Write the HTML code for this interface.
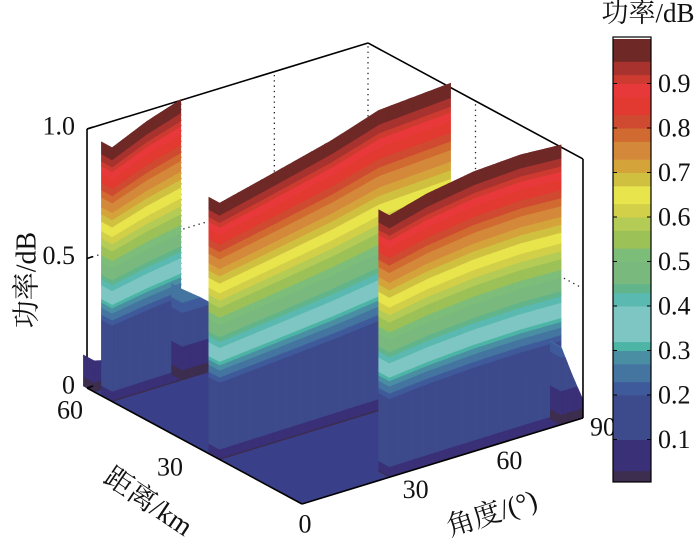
<!DOCTYPE html>
<html><head><meta charset="utf-8">
<style>
html,body{margin:0;padding:0;background:#fff;}
svg{display:block;}
text{font-family:"Liberation Serif","Noto Serif CJK SC",serif;fill:#111;}
</style></head>
<body>
<svg id="chart" width="700" height="545" viewBox="0 0 700 545" xmlns="http://www.w3.org/2000/svg">
<g id="grid"></g>
<g id="floor"></g>
<g id="surface"></g>
<g id="box"></g>
<g id="labels"></g>
<g id="cbar"></g>
</svg>
<script>
// ---- data ----
const colorLevels = [0,0.03,0.1,0.2,0.23,0.27,0.3,0.32,0.4,0.43,0.45,0.5,0.53,0.57,0.6,0.63,0.67,0.7,0.73,0.77,0.8,0.83,0.87,0.9,0.92,0.95,1.0];
const colorHex = ["#3d2d4e","#3a3078","#3d4a8c","#3f5a9a","#4474a0","#4a8ea4","#4db5a6","#7ec6c4","#5ab9b0","#62b58a","#7ab97e","#7dbd7a","#9cc157","#b4cc55","#d2cf48","#e8e44c","#d0c040","#d4a33a","#d4883a","#d06a30","#cf4a30","#e23a30","#e8393a","#cc3a30","#a8322e","#6e2826"];
const fracKnots = [0,0.04,0.3,0.45,1.0];
const valueKnots = [0.02,0.1,0.2,0.42,1.0];
const ridgeDist = [58, 53, 53, 23, 0, 0];
const ridgeAngles = [[0,3,6],[0,11,22],[22.5,28,33],[0,15,36,51,74],[28,40,55,70,83],[83,86.5,90]];
const ridgeHeights = [[0.12,0.11,0.1],[0.98,1.04,1.085],[0.35,0.3,0.25],[0.99,1.035,1.10,1.16,1.18],[1.01,1.05,1.08,1.09,1.08],[0.3,0.18,0.07]];
const ridgeColorMax = [1.2,0,1.3,0,0,1.3];
const zTicks = [0,0.5,1.0];
const zTickLabels = ["0","0.5","1.0"];
const distTicks = [0,30,60];
const angleTicks = [30,60,90];
const cbarTicks = [0.1,0.2,0.3,0.4,0.5,0.6,0.7,0.8,0.9];

// ---- projection ----
const O = [302,504];
function proj(a,d,z){ return [O[0]+3.122*a-3.583*d, O[1]-0.956*a-1.933*d-259*z]; }
function pts(list){ return list.map(p=>p[0].toFixed(1)+","+p[1].toFixed(1)).join(" "); }
const NS="http://www.w3.org/2000/svg";
function mk(tag,attrs,parent){ const e=document.createElementNS(NS,tag); for(const k in attrs) e.setAttribute(k,attrs[k]); parent.appendChild(e); return e; }
function interp(xs,ys,x){ if(x<=xs[0]) return ys[0]; for(let i=1;i<xs.length;i++){ if(x<=xs[i]){ const t=(x-xs[i-1])/(xs[i]-xs[i-1]); return ys[i-1]+t*(ys[i]-ys[i-1]); } } return ys[ys.length-1]; }

// ---- grid ----
const grid=document.getElementById('grid');
function dline(p1,p2,name){ const l=mk('line',{x1:p1[0],y1:p1[1],x2:p2[0],y2:p2[1],stroke:'#222','stroke-width':1.3,'stroke-dasharray':'1.3,4'},grid);

 }
[30,60].forEach(a=>dline(proj(a,60,0),proj(a,60,1),'grid-angle-'+a));
dline(proj(90,60,0),proj(90,60,1),'grid-back-corner');
dline(proj(90,30,0),proj(90,30,1),'grid-dist-30');
dline(proj(0,60,0.5),proj(90,60,0.5),'grid-z-left');
dline(proj(90,60,0.5),proj(90,0,0.5),'grid-z-right');

// ---- box back edges ----
const box=document.getElementById('box');
function sline(p1,p2,name,parent){ const l=mk('line',{x1:p1[0],y1:p1[1],x2:p2[0],y2:p2[1],stroke:'#000','stroke-width':1.6},parent);

 }
sline(proj(0,60,1),proj(90,60,1),'box-top-back-left',grid);
sline(proj(90,60,1),proj(90,0,1),'box-top-back-right',grid);
sline(proj(0,60,0),proj(0,60,1),'z-axis-line',grid);

// ---- floor ----
const floor=document.getElementById('floor');
const fl=mk('polygon',{points:pts([proj(0,60,0.09),proj(0,60,0),proj(0,0,0),proj(90,0,0),proj(90,0,0.05),proj(90,60,0.09)]),fill:'#3a3f89'},floor);



// ---- surface walls ----
const surf=document.getElementById('surface');
function fracOfValue(v){ return interp(valueKnots,fracKnots,v); }
function bandZ(lv,zt,cmax){ return cmax>0 ? Math.min(lv*cmax,zt) : (lv<=valueKnots[0]?0:fracOfValue(lv))*zt; }
for(let r=0;r<ridgeDist.length;r++){
  const d=ridgeDist[r], A=ridgeAngles[r], H=ridgeHeights[r], cm=ridgeColorMax[r];
  const g=mk('g',{},surf);
  
  
  const a0=A[0], zt0=H[0], th=3;
  for(let k=0;k<colorHex.length;k++){
    const z1=bandZ(colorLevels[k],zt0,cm), z2=bandZ(colorLevels[k+1],zt0,cm);
    if(z2-z1<1e-4) continue;
    mk('polygon',{points:pts([proj(a0,d,z1),proj(a0,d+th,z1),proj(a0,d+th,z2),proj(a0,d,z2)]),fill:colorHex[k],stroke:colorHex[k],'stroke-width':0.6},g);
  }
  const step=0.5;
  for(let a=A[0];a<A[A.length-1]-1e-6;a+=step){
    const b=Math.min(a+step,A[A.length-1]);
    const za=interp(A,H,a), zb=interp(A,H,b);
    for(let k=0;k<colorHex.length;k++){
      const la=colorLevels[k], lb=colorLevels[k+1];
      const z1a=bandZ(la,za,cm), z2a=bandZ(lb,za,cm), z1b=bandZ(la,zb,cm), z2b=bandZ(lb,zb,cm);
      if(z2a-z1a<1e-4 && z2b-z1b<1e-4) continue;
      mk('polygon',{points:pts([proj(a,d,z1a),proj(b,d,z1b),proj(b,d,z2b),proj(a,d,z2a)]),fill:colorHex[k],stroke:colorHex[k],'stroke-width':0.6},g);
    }
  }
}

// ---- front box edges ----
sline(proj(0,60,0),proj(0,0,0),'distance-axis-line',box);
sline(proj(0,0,0),proj(90,0,0),'angle-axis-line',box);
sline(proj(90,0,0),proj(90,0,1),'box-right-edge',box);
zTicks.forEach(z=>{ const p=proj(0,60,z); sline(p,[p[0]+6,p[1]-2],'z-tick-'+z,box); });

// ---- labels ----
const lab=document.getElementById('labels');
function txt(s,x,y,name,extra){ const t=mk('text',Object.assign({x:x,y:y,'font-size':26,'text-anchor':'middle','dominant-baseline':'central'},extra||{}),lab); t.textContent=s;

 return t; }
zTicks.forEach((z,i)=>{ const p=proj(0,60,z); txt(zTickLabels[i],p[0]-12,p[1]-3,'z-tick-label-'+i,{'text-anchor':'end'}); });
txt('60',70,410,'dist-tick-label-60');
txt('30',170,467,'dist-tick-label-30');
txt('0',305,524,'dist-tick-label-0');
angleTicks.forEach(av=>{ const p=proj(av,0,0); txt(String(av),p[0]+20,p[1]+14-(av===90?5:0),'angle-tick-label-'+av); });
txt('功率/dB',27,280,'z-axis-title',{transform:'rotate(-90 27 280)','font-size':28});
txt('距离/km',148,502,'distance-axis-title',{transform:'rotate(34 148 502)','font-size':28});
txt('角度/(°)',492,514,'angle-axis-title',{transform:'rotate(-18 492 514)','font-size':28});

// ---- colorbar ----
const cb=document.getElementById('cbar');
const cbX=613, cbW=38, cbTop=37, cbBot=484;
function cy(v){ return 484 - v*445; }
for(let k=0;k<colorHex.length;k++){
  const y1=Math.max(cy(colorLevels[k+1]),cbTop), y2=Math.min(cy(colorLevels[k]),cbBot-2);
  const r=mk('rect',{x:cbX,y:y1,width:cbW,height:Math.max(y2-y1,0)+0.5,fill:colorHex[k]},cb);
  
  
}
const fr=mk('rect',{x:cbX,y:cbTop,width:cbW,height:cbBot-2-cbTop,fill:'none',stroke:'#000','stroke-width':1.2},cb);


cbarTicks.forEach(v=>{
  const y=cy(v);
  mk('line',{x1:cbX,y1:y,x2:cbX+4,y2:y,stroke:'#000','stroke-width':1},cb);
  mk('line',{x1:cbX+cbW-4,y1:y,x2:cbX+cbW,y2:y,stroke:'#000','stroke-width':1},cb);
  const t=mk('text',{x:658,y:y,'font-size':26,'dominant-baseline':'central'},cb);
  t.textContent=v.toFixed(1);
  
  
});
const ct=mk('text',{x:648,y:13,'font-size':27,'text-anchor':'middle','dominant-baseline':'central'},cb);
ct.textContent='功率/dB';


</script>
</body></html>
